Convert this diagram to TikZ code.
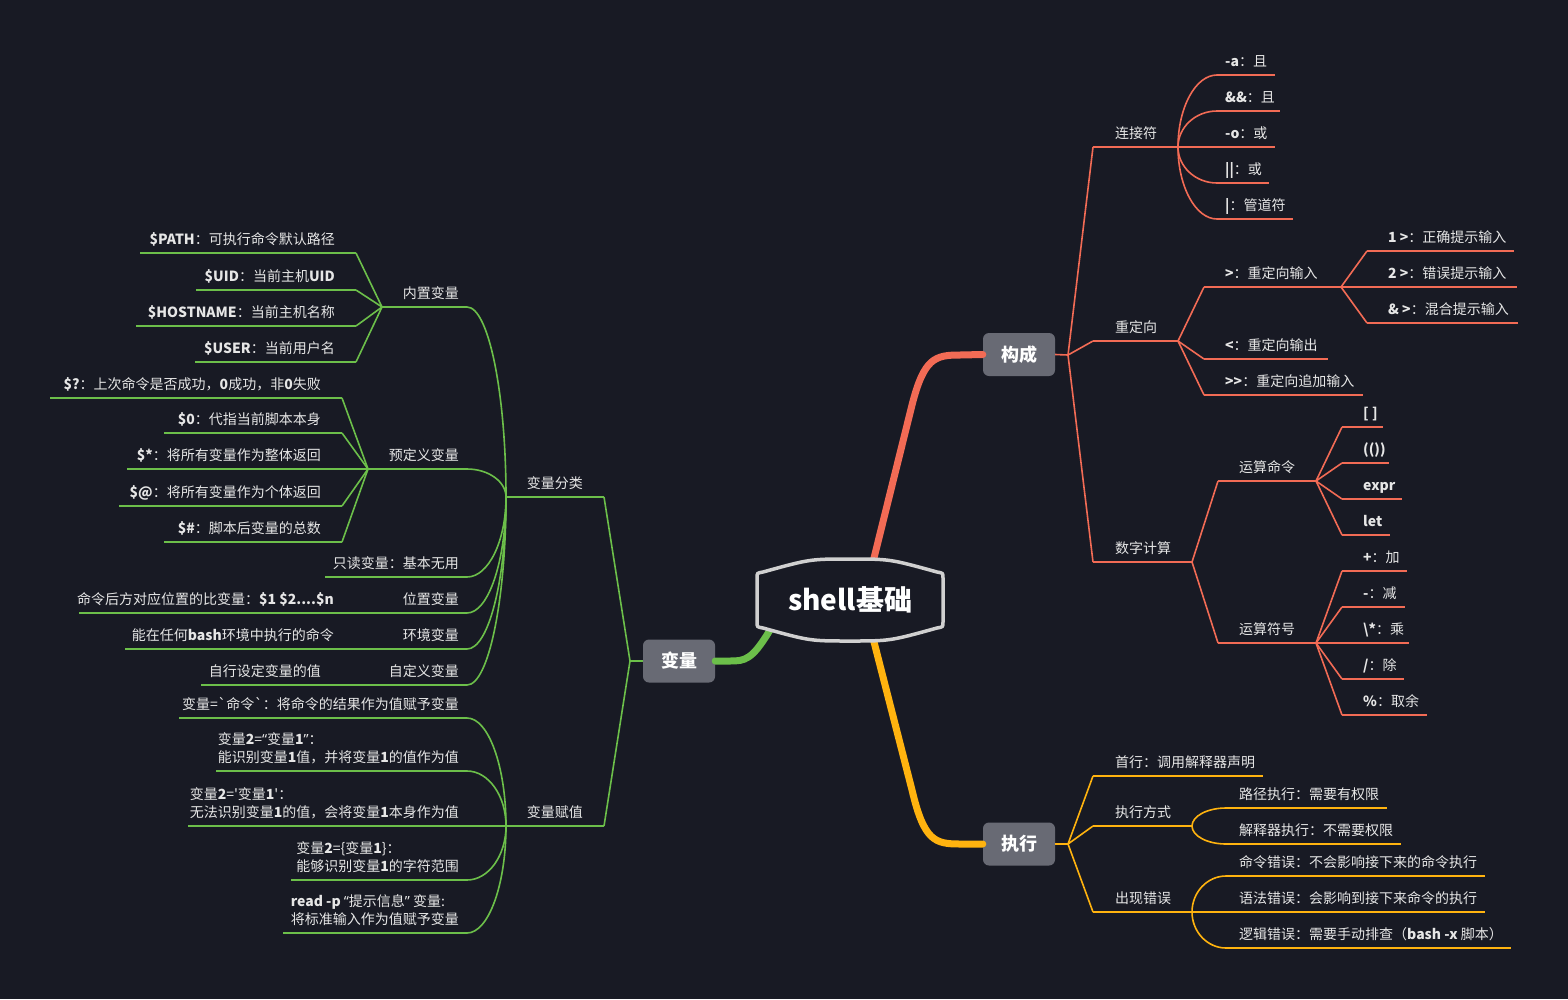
\documentclass[tikz,border=0pt]{standalone}
\usepackage{fontspec}
\setmainfont{Noto Sans CJK SC}[Ligatures=TeXOff]
\newfontfamily\latf{Noto Sans}[Ligatures=TeXOff]
\usetikzlibrary{calc}
\definecolor{bg}{HTML}{181A24}
\definecolor{cr}{HTML}{F26B55}
\definecolor{cg}{HTML}{6CBF4A}
\definecolor{cy}{HTML}{FFB30F}
\definecolor{bx}{HTML}{686A74}
\definecolor{tx}{HTML}{E6E6E6}
\definecolor{ol}{HTML}{D0D0D0}
\tikzset{
 lbl/.style={text=tx, font=\fontsize{14}{18}\selectfont, inner sep=0pt},
 rl/.style={lbl, anchor=base west},
 ll/.style={lbl, anchor=base east},
 topic/.style={fill=bx, rounded corners=6pt, minimum width=72pt, minimum height=43pt, inner sep=0pt, text=white, font=\fontsize{18}{20}\selectfont\bfseries},
 lr/.style={draw=cr, line width=1.6pt},
 lg/.style={draw=cg, line width=1.6pt},
 ly/.style={draw=cy, line width=1.6pt},
 branchline/.style={line width=7pt, line cap=round},
}
\newcommand\curvelink[3]{\draw[#1] (#2) .. controls ($(#2)!0.55!(#2|-#3)$) and ($(#3)!0.55!(#2|-#3)$) .. (#3);}
\newcommand\mkul[5]{\coordinate (#2s) at (#3,#4); \coordinate (#2e) at (#5,#4); \draw[#1] (#2s) -- (#2e);}
\newcommand\twol[2]{\begin{tabular}[b]{@{}l@{}}#1\\#2\end{tabular}}
\newcommand\myoq{{\latf “}}
\newcommand\mycq{{\latf ”}}
\begin{document}
\begin{tikzpicture}[x=1pt,y=-1pt]
\fill[bg] (0,0) rectangle (1568,999);
% central
\node[font=\fontsize{28}{30}\selectfont\bfseries, text=white, inner sep=0pt] (c) at (850,600) {\phantom{shell基础}};
\node[topic] (gc) at (1019,354.5) {构成};
\node[topic] (bl) at (679,661) {变量};
\node[topic] (zx) at (1019,844) {执行};
\coordinate (ct) at ($(c.center)+(23,-38)$);
\coordinate (cb) at ($(c.center)+(23,38)$);
\coordinate (cl) at ($(c.center)+(-80,30)$);
\draw[cr, branchline] (ct) -- (912,405) .. controls (924,358) and (935,355) .. (960,355) -- (gc.west);
\draw[cy, branchline] (cb) -- (912,790) .. controls (924,841) and (935,844) .. (960,844) -- (zx.west);
\draw[cg, branchline] (cl) .. controls (752,660) and (745,661) .. (730,661) -- (bl.east);
\draw[draw=ol, fill=bg, line width=3.5pt] (757,600) -- (757,578) .. controls (757,573) .. (763,572) .. controls (810,559) .. (850,559) .. controls (890,559) .. (937,572) .. controls (943,573) .. (943,578) -- (943,622) .. controls (943,627) .. (937,628) .. controls (890,641) .. (850,641) .. controls (810,641) .. (763,628) .. controls (757,627) .. (757,622) -- cycle;
\node[font=\fontsize{28}{30}\selectfont\bfseries, text=white, inner sep=0pt] at (c) {shell基础};
% ===== red: 构成
\coordinate (R0) at (1068,355);
\draw[lr] (gc.east) -- (R0);
\mkul{lr}{lj}{1093}{147}{1178}\node[rl] (lj) at (1115,138) {连接符};\draw[lr] (R0) -- (ljs);
\mkul{lr}{a1}{1217}{75}{1275}\node[rl] (a1) at (1225,66) {\textbf{-a}：且};\curvelink{lr}{lje}{a1s}
\mkul{lr}{a2}{1217}{111}{1280}\node[rl] (a2) at (1225,102) {\textbf{\&\&}：且};\curvelink{lr}{lje}{a2s}
\mkul{lr}{a3}{1178}{147}{1275}\node[rl] (a3) at (1225,138) {\textbf{-o}：或};
\mkul{lr}{a4}{1217}{183}{1269}\node[rl] (a4) at (1225,174) {\textbf{||}：或};\curvelink{lr}{lje}{a4s}
\mkul{lr}{a5}{1217}{219}{1293}\node[rl] (a5) at (1225,210) {\textbf{|}：管道符};\curvelink{lr}{lje}{a5s}
\mkul{lr}{cd}{1093}{341}{1178}\node[rl] (cd) at (1115,332) {重定向};\draw[lr] (R0) -- (cds);
\mkul{lr}{b1}{1204}{287}{1341}\node[rl] (b1) at (1225,278) {\textbf{>}：重定向输入};\draw[lr] (cde) -- (b1s);
\mkul{lr}{b11}{1367}{251}{1514}\node[rl] (b11) at (1388,242) {\textbf{1 >}：正确提示输入};\draw[lr] (b1e) -- (b11s);
\mkul{lr}{b12}{1341}{287}{1517}\node[rl] (b12) at (1388,278) {\textbf{2 >}：错误提示输入};
\mkul{lr}{b13}{1367}{323}{1518}\node[rl] (b13) at (1388,314) {\textbf{\& >}：混合提示输入};\draw[lr] (b1e) -- (b13s);
\mkul{lr}{b2}{1204}{359}{1328}\node[rl] (b2) at (1225,350) {\textbf{<}：重定向输出};\draw[lr] (cde) -- (b2s);
\mkul{lr}{b3}{1204}{395}{1363}\node[rl] (b3) at (1225,386) {\textbf{>>}：重定向追加输入};\draw[lr] (cde) -- (b3s);
\mkul{lr}{sz}{1093}{562}{1192}\node[rl] (sz) at (1115,553) {数字计算};\draw[lr] (R0) -- (szs);
\mkul{lr}{m1}{1218}{481}{1316}\node[rl] (m1) at (1239,472) {运算命令};\draw[lr] (sze) -- (m1s);
\mkul{lr}{m11}{1342}{427}{1383}\node[rl] (m11) at (1363,418) {\textbf{[ ]}};\draw[lr] (m1e) -- (m11s);
\mkul{lr}{m12}{1342}{463}{1389}\node[rl] (m12) at (1363,454) {\textbf{(())}};\draw[lr] (m1e) -- (m12s);
\mkul{lr}{m13}{1342}{499}{1402}\node[rl] (m13) at (1363,490) {\textbf{expr}};\draw[lr] (m1e) -- (m13s);
\mkul{lr}{m14}{1342}{535}{1390}\node[rl] (m14) at (1363,526) {\textbf{let}};\draw[lr] (m1e) -- (m14s);
\mkul{lr}{m2}{1218}{643}{1316}\node[rl] (m2) at (1239,634) {运算符号};\draw[lr] (sze) -- (m2s);
\mkul{lr}{n1}{1342}{571}{1407}\node[rl] (n1) at (1363,562) {\textbf{+}：加};\draw[lr] (m2e) -- (n1s);
\mkul{lr}{n2}{1342}{607}{1405}\node[rl] (n2) at (1363,598) {\textbf{-}：减};\draw[lr] (m2e) -- (n2s);
\mkul{lr}{n3}{1316}{643}{1409}\node[rl] (n3) at (1363,634) {\textbf{\textbackslash*}：乘};
\mkul{lr}{n4}{1342}{679}{1404}\node[rl] (n4) at (1363,670) {\textbf{/}：除};\draw[lr] (m2e) -- (n4s);
\mkul{lr}{n5}{1342}{715}{1427}\node[rl] (n5) at (1363,706) {\textbf{\%}：取余};\draw[lr] (m2e) -- (n5s);
% ===== yellow: 执行
\coordinate (Y0) at (1068,844);
\draw[ly] (zx.east) -- (Y0);
\mkul{ly}{sh}{1093}{776}{1263}\node[rl] (sh) at (1115,767) {首行：调用解释器声明};\draw[ly] (Y0) -- (shs);
\mkul{ly}{fs}{1093}{826}{1192}\node[rl] (fs) at (1115,817) {执行方式};\draw[ly] (Y0) -- (fss);
\mkul{ly}{e1}{1226}{808}{1387}\node[rl] (e1) at (1239,799) {路径执行：需要有权限};\curvelink{ly}{fse}{e1s}
\mkul{ly}{e2}{1226}{844}{1401}\node[rl] (e2) at (1239,835) {解释器执行：不需要权限};\curvelink{ly}{fse}{e2s}
\mkul{ly}{cw}{1093}{912}{1192}\node[rl] (cw) at (1115,903) {出现错误};\draw[ly] (Y0) -- (cws);
\mkul{ly}{w1}{1226}{876}{1485}\node[rl] (w1) at (1239,867) {命令错误：不会影响接下来的命令执行};\curvelink{ly}{cwe}{w1s}
\mkul{ly}{w2}{1192}{912}{1485}\node[rl] (w2) at (1239,903) {语法错误：会影响到接下来命令的执行};
\mkul{ly}{w3}{1226}{948}{1511}\node[rl] (w3) at (1239,939) {逻辑错误：需要手动排查（\textbf{bash -x} 脚本）};\curvelink{ly}{cwe}{w3s}
% ===== green: 变量
\coordinate (G0) at (630,661);
\draw[lg] (bl.west) -- (G0);
\mkul{lg}{fl}{604}{497}{506}\node[ll] (fl) at (583,488) {变量分类};\draw[lg] (G0) -- (fls);
\mkul{lg}{fz}{604}{826}{506}\node[ll] (fz) at (583,817) {变量赋值};\draw[lg] (G0) -- (fzs);
\mkul{lg}{nz}{467}{307}{382}\node[ll] (nz) at (459,298) {内置变量};\curvelink{lg}{fle}{nzs}
\mkul{lg}{p1}{356}{253}{140}\node[ll] (p1) at (335,244) {\textbf{\$PATH}：可执行命令默认路径};\draw[lg] (nze) -- (p1s);
\mkul{lg}{p2}{356}{290}{196}\node[ll] (p2) at (335,281) {\textbf{\$UID}：当前主机\textbf{UID}};\draw[lg] (nze) -- (p2s);
\mkul{lg}{p3}{356}{326}{136}\node[ll] (p3) at (335,317) {\textbf{\$HOSTNAME}：当前主机名称};\draw[lg] (nze) -- (p3s);
\mkul{lg}{p4}{356}{362}{195}\node[ll] (p4) at (335,353) {\textbf{\$USER}：当前用户名};\draw[lg] (nze) -- (p4s);
\mkul{lg}{yd}{467}{469}{368}\node[ll] (yd) at (459,460) {预定义变量};\curvelink{lg}{fle}{yds}
\mkul{lg}{q1}{342}{398}{50}\node[ll] (q1) at (321,389) {\textbf{\$?}：上次命令是否成功，\textbf{0}成功，非\textbf{0}失败};\draw[lg] (yde) -- (q1s);
\mkul{lg}{q2}{342}{433}{164}\node[ll] (q2) at (321,424) {\textbf{\$0}：代指当前脚本本身};\draw[lg] (yde) -- (q2s);
\mkul{lg}{q3}{368}{469}{127}\node[ll] (q3) at (321,460) {\textbf{\$*}：将所有变量作为整体返回};
\mkul{lg}{q4}{342}{506}{119}\node[ll] (q4) at (321,497) {\textbf{\$@}：将所有变量作为个体返回};\draw[lg] (yde) -- (q4s);
\mkul{lg}{q5}{342}{542}{164}\node[ll] (q5) at (321,533) {\textbf{\$\#}：脚本后变量的总数};\draw[lg] (yde) -- (q5s);
\mkul{lg}{zd}{467}{577}{325}\node[ll] (zd) at (459,568) {只读变量：基本无用};\curvelink{lg}{fle}{zds}
\mkul{lg}{wz}{467}{613}{395}\node[ll] (wz) at (459,604) {位置变量};\curvelink{lg}{fle}{wzs}
\mkul{lg}{wzc}{395}{613}{79}\node[ll] (wzc) at (334,604) {命令后方对应位置的比变量：\textbf{\$1 \$2....\$n}};
\mkul{lg}{hj}{467}{649}{395}\node[ll] (hj) at (459,640) {环境变量};\curvelink{lg}{fle}{hjs}
\mkul{lg}{hjc}{395}{649}{125}\node[ll] (hjc) at (334,640) {能在任何\textbf{bash}环境中执行的命令};
\mkul{lg}{zdy}{467}{685}{395}\node[ll] (zdy) at (459,676) {自定义变量};\curvelink{lg}{fle}{zdys}
\mkul{lg}{zdyc}{395}{685}{201}\node[ll] (zdyc) at (321,676) {自行设定变量的值};
\mkul{lg}{f1}{467}{718}{179}\node[ll] (f1) at (459,709) {变量=\textasciigrave 命令\textasciigrave：将命令的结果作为值赋予变量};\curvelink{lg}{fze}{f1s}
\mkul{lg}{f2}{467}{771}{216}\node[ll] (f2) at (459,762) {\twol{变量\textbf{2}=\myoq 变量\textbf{1}\mycq：}{能识别变量\textbf{1}值，并将变量\textbf{1}的值作为值}};\curvelink{lg}{fze}{f2s}
\mkul{lg}{f3}{506}{826}{188}\node[ll] (f3) at (459,817) {\twol{变量\textbf{2}=\textquotesingle 变量\textbf{1}\textquotesingle：}{无法识别变量\textbf{1}的值，会将变量\textbf{1}本身作为值}};
\mkul{lg}{f4}{467}{880}{291}\node[ll] (f4) at (459,871) {\twol{变量\textbf{2}=\{变量\textbf{1}\}：}{能够识别变量\textbf{1}的字符范围}};\curvelink{lg}{fze}{f4s}
\mkul{lg}{f5}{467}{933}{283}\node[ll] (f5) at (459,924) {\twol{\textbf{read -p} \myoq 提示信息\mycq\ 变量:}{将标准输入作为值赋予变量}};\curvelink{lg}{fze}{f5s}
\end{tikzpicture}
\end{document}
